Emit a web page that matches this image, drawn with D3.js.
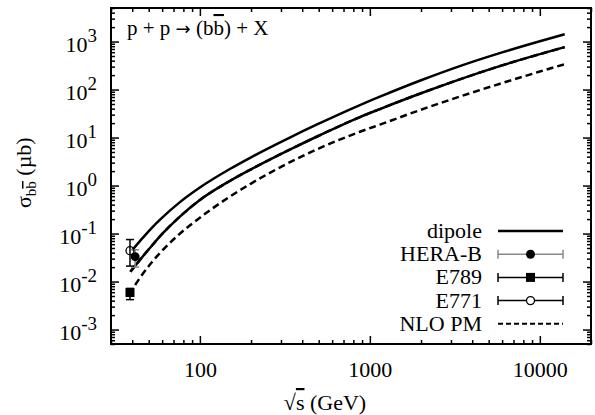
<!DOCTYPE html>
<html><head><meta charset="utf-8">
<script src="https://cdn.jsdelivr.net/npm/d3@7"></script>
<style>body{margin:0;background:#fff;} .ser{font-family:'Liberation Serif';}</style></head>
<body><svg id="c" width="595" height="415" style="font-family:'Liberation Serif'"></svg>
<script>
// sqrt(s) in GeV and sigma_bb (microbarn) for each curve
const dipoleHighX = [40, 45, 52, 60, 76, 100, 150, 200, 338, 500, 874, 1146, 2000, 3381, 6000, 10000, 14000];
const dipoleHighY = [0.045, 0.0736, 0.130, 0.214, 0.446, 0.91, 2.21, 3.88, 9.98, 19.4, 47.5, 71, 156, 308, 595, 1016, 1422];
const dipoleLowX  = [39, 45, 52, 60, 76, 100, 150, 200, 338, 500, 874, 1146, 2000, 3381, 6000, 10000, 14000];
const dipoleLowY  = [0.016, 0.030, 0.055, 0.098, 0.223, 0.50, 1.245, 2.18, 5.61, 10.9, 26.7, 39.2, 83.6, 163, 319, 546, 764];
const nloHighX    = [39, 45, 52, 60, 76, 100, 150, 200, 338, 500, 874, 1146, 2000, 3381, 6000, 10000, 14000];
const nloHighY    = [0.016, 0.030, 0.055, 0.098, 0.223, 0.50, 1.245, 2.18, 5.61, 10.9, 26.7, 39.2, 83.6, 163, 319, 546, 764];
const nloLowX     = [41.6, 45, 52, 63.7, 76, 100, 147, 200, 387, 500, 874, 1146, 2000, 3381, 6000, 10000, 14000];
const nloLowY     = [0.0085, 0.01276, 0.0249, 0.0548, 0.0984, 0.214, 0.56, 1.10, 3.87, 5.9, 13.2, 18.6, 38, 71.4, 136.5, 237, 337];

// experiments
const experiments = ["HERA-B", "E789", "E771"];
const expX   = [41.6, 38.8, 38.8];
const expY   = [0.033, 0.0059, 0.044];
const expLo  = [0.020, 0.0042, 0.021];
const expHi  = [0.046, 0.0072, 0.075];

const xTickLabels = [100, 1000, 10000];
const yTickExps = [-3, -2, -1, 0, 1, 2, 3];
const legendLabels = ["dipole", "HERA-B", "E789", "E771", "NLO PM"];

const FONT = "'Liberation Serif'";
const ser = t => t.attr("class", "ser").attr("font-family", "Liberation Serif").style("font-family", FONT);
const L = 111, R = 591, T = 8, B = 344;
const svg = d3.select("#c");
const x = d3.scaleLog().domain([30, 20000]).range([L, R]);
const y = d3.scaleLog().domain([5e-4, 5e3]).range([B, T]);

const xMinor = [], yMinor = [];
for (let d = 10; d <= 10000; d *= 10) for (let k = 2; k <= 9; k++) { const v = d * k; if (v >= 30 && v <= 20000) xMinor.push(v); }
for (let e = -4; e <= 3; e++) for (let k = 2; k <= 9; k++) { const v = k * Math.pow(10, e); if (v >= 5e-4 && v <= 5e3) yMinor.push(v); }
const yMajor = yTickExps.map(e => Math.pow(10, e));

function styleAxis(g) { g.attr("font-family", "Liberation Serif"); g.select(".domain").remove(); g.selectAll("line").attr("stroke", "#000").attr("stroke-width", 1.5); }

svg.append("g").attr("transform", `translate(0,${B})`).call(d3.axisBottom(x).tickValues(xMinor).tickSize(-4).tickFormat("")).call(styleAxis);
const xb = svg.append("g").attr("transform", `translate(0,${B})`).call(d3.axisBottom(x).tickValues(xTickLabels).tickSize(-8).tickFormat(d3.format("d"))).call(styleAxis);
xb.selectAll("text").attr("dy", null).attr("y", 33).attr("font-size", 22).call(ser);
svg.append("g").attr("transform", `translate(0,${T})`).call(d3.axisTop(x).tickValues(xMinor).tickSize(-4).tickFormat("")).call(styleAxis);
svg.append("g").attr("transform", `translate(0,${T})`).call(d3.axisTop(x).tickValues(xTickLabels).tickSize(-8).tickFormat("")).call(styleAxis);
svg.append("g").attr("transform", `translate(${L},0)`).call(d3.axisLeft(y).tickValues(yMinor).tickSize(-4).tickFormat("")).call(styleAxis);
const yl = svg.append("g").attr("transform", `translate(${L},0)`).call(d3.axisLeft(y).tickValues(yMajor).tickSize(-8).tickPadding(14).tickFormat("")).call(styleAxis);
yl.selectAll(".tick text").attr("dy", null).attr("y", 10).attr("font-size", 22).call(ser)
  .each(function(d) {
    const t = d3.select(this);
    t.text(null);
    t.append("tspan").text("10");
    t.append("tspan").attr("dy", -10).attr("font-size", 19).text(String(Math.round(Math.log10(d))));
  });
svg.append("g").attr("transform", `translate(${R},0)`).call(d3.axisRight(y).tickValues(yMinor).tickSize(-4).tickFormat("")).call(styleAxis);
svg.append("g").attr("transform", `translate(${R},0)`).call(d3.axisRight(y).tickValues(yMajor).tickSize(-8).tickFormat("")).call(styleAxis);

svg.append("rect").attr("x", L).attr("y", T).attr("width", R - L).attr("height", B - T)
  .attr("fill", "none").attr("stroke", "#000").attr("stroke-width", 2);

const line = d3.line().x(d => x(d[0])).y(d => y(d[1])).curve(d3.curveMonotoneX);
const zip = (a, b) => a.map((v, i) => [v, b[i]]);
const curves = [
  {xs: dipoleHighX, ys: dipoleHighY, dash: null},
  {xs: dipoleLowX, ys: dipoleLowY, dash: null},
  {xs: nloHighX, ys: nloHighY, dash: "7,4"},
  {xs: nloLowX, ys: nloLowY, dash: "7,4"}
];
curves.forEach(c => {
  svg.append("path").attr("d", line(zip(c.xs, c.ys))).attr("fill", "none")
    .attr("stroke", "#000").attr("stroke-width", 2.5).attr("stroke-dasharray", c.dash);
});

const barColor = ["#888", "#000", "#000"];
experiments.forEach((name, i) => {
  const cx = x(expX[i]);
  const g = svg.append("g");
  g.append("line").attr("x1", cx).attr("x2", cx).attr("y1", y(expLo[i])).attr("y2", y(expHi[i])).attr("stroke", barColor[i]).attr("stroke-width", 1.5);
  [expLo[i], expHi[i]].forEach(v => g.append("line").attr("x1", cx - 4).attr("x2", cx + 4).attr("y1", y(v)).attr("y2", y(v)).attr("stroke", barColor[i]).attr("stroke-width", 1.5));
  const cy = y(expY[i]);
  if (name === "HERA-B") g.append("circle").attr("cx", cx).attr("cy", cy).attr("r", 4.5).attr("fill", "#000");
  else if (name === "E789") g.append("rect").attr("x", cx - 4.5).attr("y", cy - 4.5).attr("width", 9).attr("height", 9).attr("fill", "#000");
  else g.append("circle").attr("cx", cx).attr("cy", cy).attr("r", 4).attr("fill", "none").attr("stroke", "#000").attr("stroke-width", 1.3);
});

const lx1 = 498, lx2 = 563, ltx = 482;
legendLabels.forEach((lab, i) => {
  const ry = 231 + i * 23.2;
  svg.append("text").attr("x", ltx).attr("y", ry + 7).attr("text-anchor", "end").attr("font-size", 22).call(ser).text(lab);
  const g = svg.append("g");
  if (lab === "dipole") {
    g.append("line").attr("x1", lx1).attr("x2", lx2).attr("y1", ry).attr("y2", ry).attr("stroke", "#000").attr("stroke-width", 2.5);
  } else if (lab === "NLO PM") {
    g.append("line").attr("x1", lx1).attr("x2", lx2).attr("y1", ry).attr("y2", ry).attr("stroke", "#000").attr("stroke-width", 2).attr("stroke-dasharray", "5,3");
  } else {
    const col = lab === "HERA-B" ? "#888" : "#000";
    g.append("line").attr("x1", lx1).attr("x2", lx2).attr("y1", ry).attr("y2", ry).attr("stroke", col).attr("stroke-width", 1.5);
    [lx1, lx2].forEach(xx => g.append("line").attr("x1", xx).attr("x2", xx).attr("y1", ry - 4.5).attr("y2", ry + 4.5).attr("stroke", col).attr("stroke-width", 1.5));
    const cx = (lx1 + lx2) / 2;
    if (lab === "HERA-B") g.append("circle").attr("cx", cx).attr("cy", ry).attr("r", 4.5).attr("fill", "#000");
    else if (lab === "E789") g.append("rect").attr("x", cx - 4.5).attr("y", ry - 4.5).attr("width", 9).attr("height", 9).attr("fill", "#000");
    else g.append("circle").attr("cx", cx).attr("cy", ry).attr("r", 4).attr("fill", "#fff").attr("stroke", "#000").attr("stroke-width", 1.3);
  }
});

const title = svg.append("text").attr("x", 127).attr("y", 35).attr("font-size", 21).call(ser);
title.append("tspan").text("p + p ");
title.append("tspan").style("font-family", "'DejaVu Sans'").attr("font-size", 18).text("\u2192");
title.append("tspan").text(" (b");
title.append("tspan").style("text-decoration", "overline").text("b");
title.append("tspan").text(") + X");

const xl = svg.append("text").attr("x", 325).attr("y", 410).attr("text-anchor", "middle").attr("font-size", 22).call(ser);
xl.append("tspan").text("\u221A");
xl.append("tspan").style("text-decoration", "overline").text("s");
xl.append("tspan").text(" (GeV)");

const ylab = svg.append("text").attr("transform", "translate(31,208) rotate(-90)").attr("font-size", 22).call(ser);
ylab.append("tspan").text("\u03C3");
ylab.append("tspan").attr("dy", 5).attr("font-size", 15).text("b");
ylab.append("tspan").attr("font-size", 15).style("text-decoration", "overline").text("b");
ylab.append("tspan").attr("dy", -5).text(" (\u00B5b)");
</script></body></html>
